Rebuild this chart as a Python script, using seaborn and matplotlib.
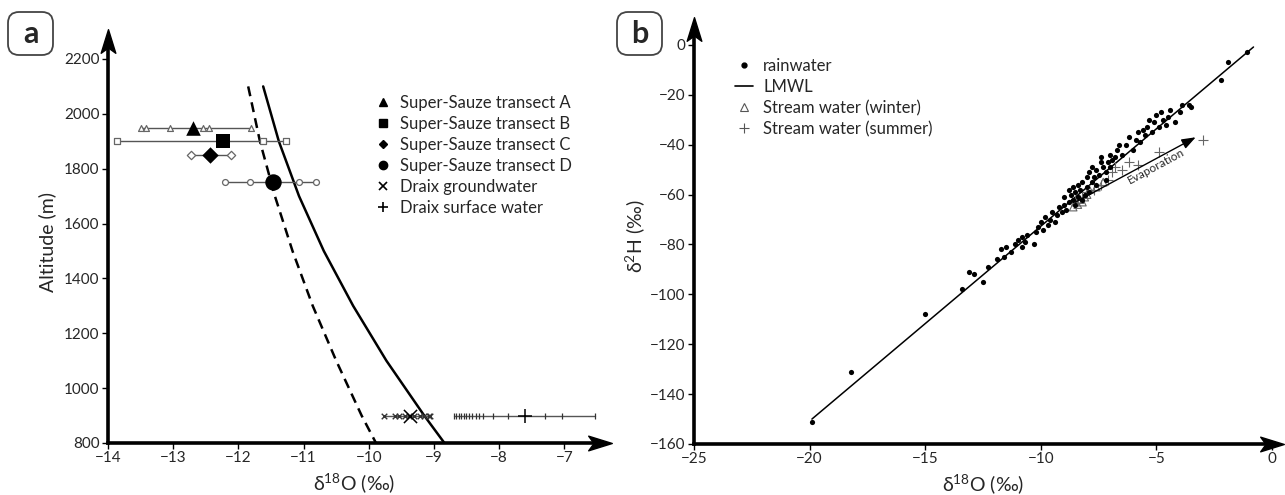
import numpy as np
import pandas as pd
import matplotlib
matplotlib.use("Agg")
import matplotlib.pyplot as plt
import seaborn as sns
from matplotlib.patches import FancyBboxPatch
from matplotlib.lines import Line2D
from matplotlib.path import Path
from matplotlib.transforms import IdentityTransform

sns.set_theme(style="white")
plt.rcParams['font.family'] = ['Lato', 'DejaVu Sans']
plt.rcParams['mathtext.fontset'] = 'custom'
plt.rcParams['mathtext.rm'] = 'Lato'
plt.rcParams['mathtext.it'] = 'Lato:italic'

# ---------------- Panel a data ----------------
alt_a, alt_b, alt_c, alt_d, alt_draix = 1950, 1900, 1850, 1750, 900
transect_a = [-13.50, -13.42, -13.05, -12.55, -12.45, -11.80]
transect_b = [-13.86, -11.62, -11.27]
transect_c = [-12.73, -12.45, -12.12]
transect_d = [-12.21, -11.82, -11.07, -10.81]
draix_ground = [-9.77, -9.60, -9.54, -9.45, -9.38, -9.30, -9.22, -9.16, -9.08, -9.06]
draix_surface = [-8.70, -8.66, -8.62, -8.58, -8.54, -8.51, -8.46, -8.41, -8.36, -8.31,
                 -8.25, -8.10, -7.86, -7.29, -7.04, -6.53]
group_means = [-12.70, -12.24, -12.43, -11.47, -9.37, -7.60]
group_alts = [1950, 1900, 1850, 1750, 900, 900]

curve_alt = [2100, 1900, 1700, 1500, 1300, 1100, 900, 800]
curve_solid = [-11.62, -11.38, -11.07, -10.69, -10.24, -9.73, -9.15, -8.84]
curve_dashed = [-11.85, -11.67, -11.44, -11.17, -10.86, -10.50, -10.11, -9.89]

# ---------------- Panel b data ----------------
rain_o18 = [-19.9, -18.2, -15.0, -13.4, -13.1, -12.9, -12.5, -12.3, -11.9, -11.7,
            -11.6, -11.5, -11.3, -11.1, -11.0, -10.8, -10.8, -10.7, -10.6, -10.3,
            -10.2, -10.1, -10.0, -9.9, -9.8, -9.7, -9.6, -9.5, -9.4, -9.3,
            -9.2, -9.1, -9.0, -9.0, -8.9, -8.8, -8.8, -8.7, -8.6, -8.6,
            -8.5, -8.5, -8.4, -8.4, -8.3, -8.2, -8.2, -8.1, -8.0, -8.0,
            -7.9, -7.9, -7.8, -7.8, -7.7, -7.6, -7.6, -7.5, -7.4, -7.4,
            -7.3, -7.2, -7.2, -7.1, -7.0, -7.0, -6.9, -6.8, -6.7, -6.6,
            -6.5, -6.3, -6.2, -6.0, -5.9, -5.8, -5.7, -5.6, -5.5, -5.4,
            -5.3, -5.2, -5.1, -5.0, -4.9, -4.8, -4.7, -4.6, -4.5, -4.4,
            -4.2, -4.0, -3.9, -3.6, -3.5, -2.2, -1.9, -1.1]
rain_h2 = [-151, -131, -108, -98, -91, -92, -95, -89, -86, -82,
           -85, -81, -83, -80, -78, -77, -81, -79, -76, -80,
           -75, -73, -71, -74, -69, -72, -70, -67, -71, -68,
           -65, -67, -64, -61, -66, -63, -58, -60, -62, -57,
           -64, -59, -61, -56, -58, -62, -55, -60, -57, -53,
           -59, -51, -55, -49, -53, -50, -56, -52, -47, -45,
           -49, -54, -51, -47, -44, -49, -46, -45, -42, -40,
           -44, -40, -37, -42, -38, -35, -39, -34, -36, -33,
           -30, -35, -31, -28, -33, -27, -30, -32, -29, -26,
           -31, -27, -24, -24, -25, -14, -7, -3]
lmwl_o18 = [-19.9, -0.8]
lmwl_h2 = [-150.0, -0.8]
winter_o18 = [-8.6, -8.5, -8.4, -8.3, -8.2, -8.1, -8.0, -7.9, -7.6, -7.3]
winter_h2 = [-65, -63, -64, -62, -63, -61, -60, -58, -57, -55]
summer_o18 = [-8.5, -8.2, -8.0, -7.7, -7.4, -7.1, -6.9, -6.8, -6.5, -6.2, -5.8, -4.9, -3.0]
summer_h2 = [-62, -61, -59, -58, -56, -54, -51, -49, -50, -47, -48, -43, -38]
evap_start = (-8.5, -63.0)
evap_end = (-3.3, -37.0)

W, H = 1285, 495
fig = plt.figure(figsize=(W / 100, H / 100), dpi=100)

def frac(left, top, right, bottom):
    return [left / W, (H - bottom) / H, (right - left) / W, (bottom - top) / H]

ax1 = fig.add_axes(frac(108, 41, 600, 443))
ax2 = fig.add_axes(frac(694, 29, 1272, 444))

# stealth arrowhead marker
arrow_right = Path([(1.0, 0.0), (-1.0, 0.62), (-0.55, 0.0), (-1.0, -0.62), (1.0, 0.0)],
                   [Path.MOVETO, Path.LINETO, Path.LINETO, Path.LINETO, Path.CLOSEPOLY])
arrow_up = Path([(0.0, 1.0), (0.62, -1.0), (0.0, -0.55), (-0.62, -1.0), (0.0, 1.0)],
                [Path.MOVETO, Path.LINETO, Path.LINETO, Path.LINETO, Path.CLOSEPOLY])

def style_axes(ax):
    for s in ['top', 'right']:
        ax.spines[s].set_visible(False)
    for s in ['left', 'bottom']:
        ax.spines[s].set_linewidth(2.6)
        ax.spines[s].set_color('black')
    ax.tick_params(axis='both', which='both', direction='out', length=4, width=1,
                   color='black', labelsize=11, pad=2, left=True, bottom=True)
    ax.plot([1], [0], transform=ax.transAxes, marker=arrow_right, ms=17, color='black',
            clip_on=False, zorder=10)
    ax.plot([0], [1], transform=ax.transAxes, marker=arrow_up, ms=17, color='black',
            clip_on=False, zorder=10)
    ax.grid(False)
    ax.set_facecolor('white')

# ---------------- Panel a ----------------
ax1.set_xlim(-14, -14 + (600 - 108) / 65.2)
ax1.set_ylim(800, 800 + (443 - 41) / 0.2743)

sns.lineplot(x=curve_solid, y=curve_alt, ax=ax1, color='black', lw=1.8, sort=False,
             estimator=None)
sns.lineplot(x=curve_dashed, y=curve_alt, ax=ax1, color='black', lw=1.8, sort=False,
             estimator=None, linestyle=(0, (4, 2.5)))

rows = [(transect_a, alt_a, '^'), (transect_b, alt_b, 's'),
        (transect_c, alt_c, 'D'), (transect_d, alt_d, 'o')]
for vals, alt, mk in rows:
    ax1.plot([min(vals), max(vals)], [alt, alt], color='#555555', lw=1.0, zorder=2)
    sns.scatterplot(x=vals, y=[alt] * len(vals), ax=ax1, marker=mk, s=18,
                    facecolor='white', edgecolor='#666666', linewidth=0.9, zorder=3)

ax1.plot([min(draix_ground), max(draix_ground)], [alt_draix] * 2, color='#555555', lw=1.0)
sns.scatterplot(x=draix_ground, y=[alt_draix] * len(draix_ground), ax=ax1, marker='x',
                s=16, color='#333333', linewidth=1.0, zorder=3)
ax1.plot([min(draix_surface), max(draix_surface)], [alt_draix] * 2, color='#555555', lw=1.0)
sns.scatterplot(x=draix_surface, y=[alt_draix] * len(draix_surface), ax=ax1, marker='|',
                s=20, color='#333333', linewidth=0.9, zorder=3)

mean_markers = ['^', 's', 'D', 'o', 'x', '+']
mean_sizes = [110, 90, 70, 140, 90, 110]
for xm, ym, mk, sz in zip(group_means, group_alts, mean_markers, mean_sizes):
    if mk in ('x', '+'):
        sns.scatterplot(x=[xm], y=[ym], ax=ax1, marker=mk, s=sz, color='black',
                        linewidth=1.1, zorder=4)
    else:
        sns.scatterplot(x=[xm], y=[ym], ax=ax1, marker=mk, s=sz, color='black',
                        edgecolor='black', linewidth=0, zorder=4)

style_axes(ax1)
ax1.set_xticks(np.arange(-14, -6, 1))
ax1.set_yticks(np.arange(800, 2201, 200))
ax1.set_xlabel('δ$^{18}$O (‰)', fontsize=14, labelpad=4)
ax1.set_ylabel('Altitude (m)', fontsize=14, labelpad=6)

leg_a = [Line2D([], [], marker='^', color='black', ls='none', ms=6),
         Line2D([], [], marker='s', color='black', ls='none', ms=6),
         Line2D([], [], marker='D', color='black', ls='none', ms=4.5),
         Line2D([], [], marker='o', color='black', ls='none', ms=6),
         Line2D([], [], marker='x', color='black', ls='none', ms=6, mew=1.2),
         Line2D([], [], marker='+', color='black', ls='none', ms=7, mew=1.2)]
lab_a = ['Super-Sauze transect A', 'Super-Sauze transect B', 'Super-Sauze transect C',
         'Super-Sauze transect D', 'Draix groundwater', 'Draix surface water']
ax1.legend(leg_a, lab_a, loc='upper left', bbox_to_anchor=(0.543, 0.865), frameon=False,
           fontsize=12, handlelength=1.0, handletextpad=0.5, labelspacing=0.3,
           borderpad=0, borderaxespad=0)

# ---------------- Panel b ----------------
ax2.set_xlim(-25, 0)
ax2.set_ylim(-160, (45 - 29) / 2.494)

sns.lineplot(x=lmwl_o18, y=lmwl_h2, ax=ax2, color='black', lw=1.1, estimator=None)
sns.scatterplot(x=winter_o18, y=winter_h2, ax=ax2, marker='^', s=30, facecolor='none',
                edgecolor='#666666', linewidth=0.8, zorder=3)
sns.scatterplot(x=summer_o18, y=summer_h2, ax=ax2, marker='+', s=55, color='#666666',
                linewidth=0.8, zorder=3)
sns.scatterplot(x=rain_o18, y=rain_h2, ax=ax2, marker='o', s=14, color='black',
                linewidth=0, zorder=4)
ax2.annotate('', xy=evap_end, xytext=evap_start,
             arrowprops=dict(arrowstyle='-|>,head_length=0.6,head_width=0.22', lw=1.0,
                             color='black', shrinkA=0, shrinkB=0, mutation_scale=14))
dx = (evap_end[0] - evap_start[0]) * 578 / 25
dy = (evap_end[1] - evap_start[1]) * 2.494
ang = np.degrees(np.arctan2(dy, dx))
ax2.text(-5.0, -48.5, 'Evaporation', fontsize=8.5, rotation=ang, ha='center', va='center',
         rotation_mode='anchor')

style_axes(ax2)
ax2.set_xticks(np.arange(-25, 1, 5))
ax2.set_yticks(np.arange(-160, 1, 20))
ax2.set_xlabel('δ$^{18}$O (‰)', fontsize=14, labelpad=4)
ax2.set_ylabel('δ$^{2}$H (‰)', fontsize=14, labelpad=2)

leg_b = [Line2D([], [], marker='o', color='black', ls='none', ms=3.5),
         Line2D([], [], color='black', lw=1.2),
         Line2D([], [], marker='^', mfc='none', mec='#555555', ls='none', ms=6, mew=0.8),
         Line2D([], [], marker='+', color='#555555', ls='none', ms=7, mew=0.8)]
lab_b = ['rainwater', 'LMWL', 'Stream water (winter)', 'Stream water (summer)']
ax2.legend(leg_b, lab_b, loc='upper left', bbox_to_anchor=(0.071, 0.93), frameon=False,
           fontsize=12, handlelength=1.1, handletextpad=0.6, labelspacing=0.3,
           borderpad=0, borderaxespad=0)

# panel letters
for x0, letter in [(8, 'a'), (617, 'b')]:
    box = FancyBboxPatch((x0, H - 55), 45, 43, boxstyle='round,pad=0,rounding_size=11',
                         transform=IdentityTransform(), facecolor='white',
                         edgecolor='#444444', lw=1.3)
    fig.add_artist(box)
    fig.text((x0 + 22.5) / W, (H - 34) / H, letter, fontsize=22, fontweight='bold',
             ha='center', va='center')

fig.savefig('out.png', dpi=100)
